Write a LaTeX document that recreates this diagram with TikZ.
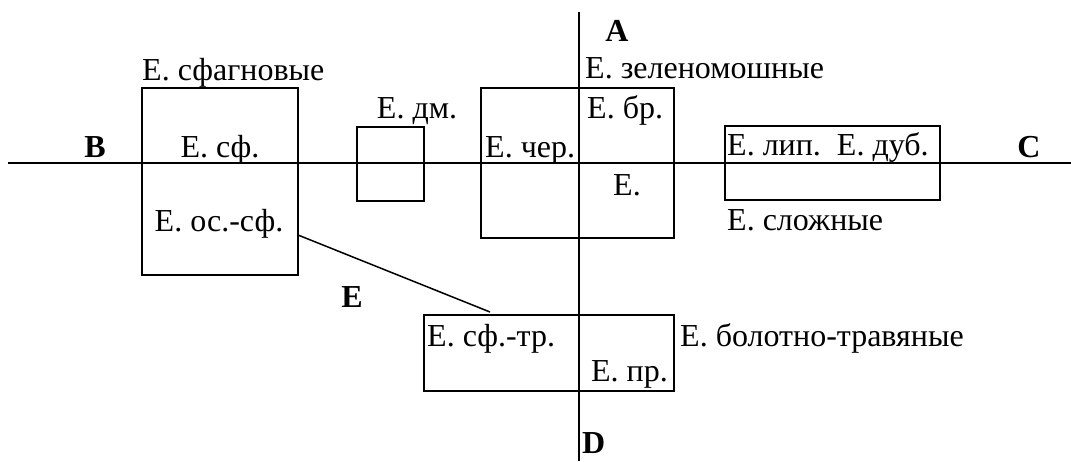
\documentclass[tikz,border=0pt]{standalone}
\usepackage{fontspec}
\setmainfont{Liberation Serif}
\begin{document}
\begin{tikzpicture}[x=1pt,y=-1pt,
  every node/.style={font=\fontsize{32}{36}\selectfont},
  zone/.style={draw, line width=2pt, inner sep=0pt},
  lbl/.style={inner sep=0pt, anchor=base west},
  lblc/.style={inner sep=0pt, anchor=base},
  pole/.style={inner sep=0pt, anchor=base, font=\fontsize{32}{36}\selectfont\bfseries},
  axis/.style={line width=2pt},
  link/.style={line width=1.5pt}]
\useasboundingbox (0,0) rectangle (1071,461);

% vegetation zones (boxes)
\node[zone, minimum width=156pt, minimum height=187pt] (sph) at (220,181.5) {};
\node[zone, minimum width=67pt, minimum height=74pt] (dm) at (390,163.5) {};
\node[zone, minimum width=193pt, minimum height=150pt] (cher) at (577.5,163) {};
\node[zone, minimum width=215pt, minimum height=74pt] (lip) at (832.5,163) {};
\node[zone, minimum width=250pt, minimum height=76pt] (sftr) at (549,353) {};

% axes
\coordinate (axB) at (8,163);
\coordinate (axC) at (1071,163);
\coordinate (axA) at (579,12);
\coordinate (axD) at (579,461);
\draw[axis] (axB) -- (axC);
\draw[axis] (axA) -- (axD);

% link between the sphagnum zone and the sedge-sphagnum zone
\coordinate (lnkS) at (298,235);
\coordinate (lnkE) at (490,312);
\draw[link] (lnkS) -- (lnkE);

% pole letters
\node[pole] (pA) at (617,41) {A};
\node[pole] (pB) at (95,157) {B};
\node[pole] (pC) at (1029,157) {C};
\node[pole, anchor=base west] (pD) at (582,453) {D};
\node[pole] (pE) at (352,307) {E};

% labels
\node[lbl] (tSphG) at (142,80) {Е. сфагновые};
\node[lblc] (tSph) at (220,157) {Е. сф.};
\node[lblc] (tOsSph) at (219,231) {Е. ос.-сф.};
\node[lblc] (tDm) at (417,118) {Е. дм.};
\node[lbl] (tCher) at (485,157) {Е. чер.};
\node[lbl] (tBr) at (587,118) {Е. бр.};
\node[lblc] (tE) at (627,195) {Е.};
\node[lbl] (tZel) at (585,78) {Е. зеленомошные};
\node[lbl] (tLip) at (727,155) {Е. лип.\ \ Е. дуб.};
\node[lbl] (tSlozh) at (727,230) {Е. сложные};
\node[lbl] (tSfTr) at (427,346) {Е. сф.-тр.};
\node[lbl] (tBol) at (680,346) {Е. болотно-травяные};
\node[lblc, anchor=base east] (tPr) at (668,381) {Е. пр.};
\end{tikzpicture}
\end{document}
